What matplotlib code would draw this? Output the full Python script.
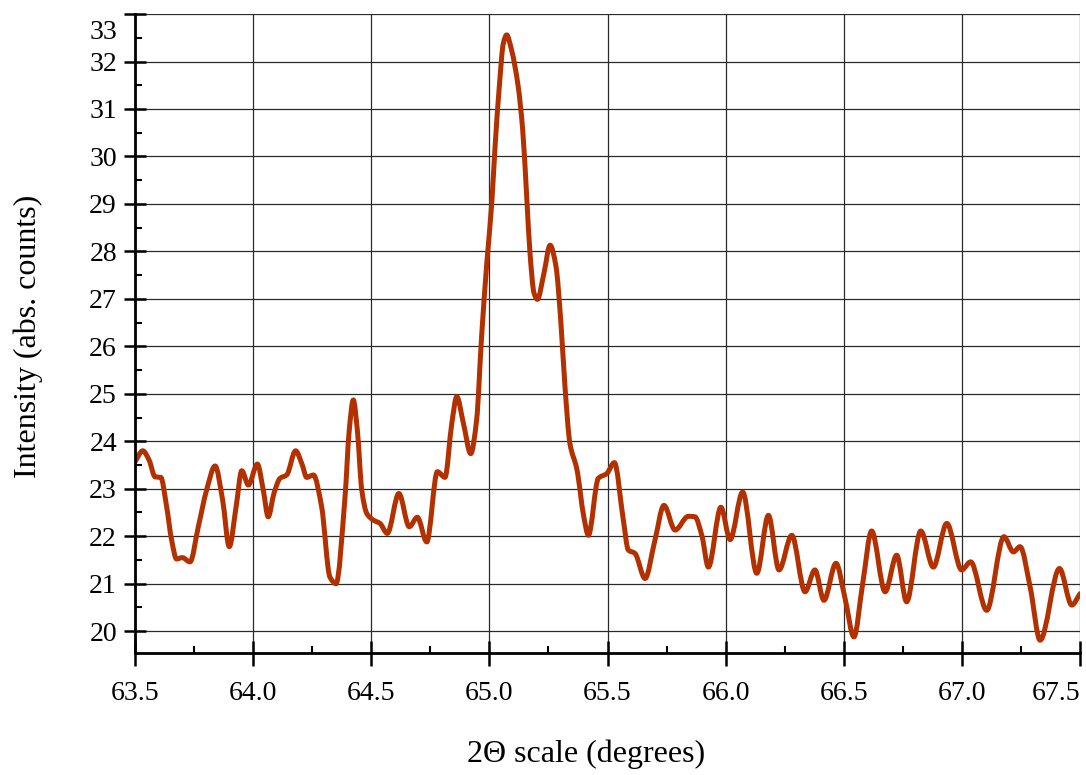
import matplotlib
matplotlib.use("Agg")
import matplotlib.pyplot as plt
from matplotlib.ticker import MultipleLocator, FormatStrFormatter
from matplotlib.path import Path
from matplotlib.patches import PathPatch
import matplotlib.transforms as mtransforms

# 2-theta positions (degrees)
two_theta = [
    63.500, 63.533, 63.560, 63.585, 63.609, 63.634, 63.655, 63.676, 63.700, 63.733,
    63.768, 63.803, 63.839, 63.871, 63.899, 63.928, 63.952, 63.980, 64.018, 64.043,
    64.064, 64.088, 64.114, 64.142, 64.180, 64.206, 64.227, 64.255, 64.290, 64.325,
    64.351, 64.389, 64.407, 64.424, 64.441, 64.460, 64.481, 64.509, 64.537, 64.568,
    64.617, 64.661, 64.695, 64.735, 64.780, 64.812, 64.841, 64.862, 64.890, 64.921,
    64.946, 64.967, 64.989, 65.010, 65.024, 65.042, 65.059, 65.073, 65.094, 65.122,
    65.141, 65.158, 65.172, 65.189, 65.203, 65.231, 65.257, 65.282, 65.302, 65.320,
    65.341, 65.370, 65.400, 65.419, 65.461, 65.497, 65.529, 65.567, 65.588, 65.616,
    65.659, 65.700, 65.739, 65.786, 65.842, 65.870, 65.900, 65.927, 65.980, 66.019,
    66.072, 66.132, 66.181, 66.226, 66.280, 66.336, 66.378, 66.416, 66.467, 66.505,
    66.543, 66.580, 66.618, 66.675, 66.724, 66.766, 66.826, 66.879, 66.936, 66.999,
    67.037, 67.105, 67.178, 67.218, 67.246, 67.290, 67.331, 67.413, 67.465, 67.500,
]

# intensity (abs. counts)
intensity = [
    23.57, 23.80, 23.60, 23.25, 23.24, 22.62, 21.92, 21.52, 21.55, 21.46,
    22.20, 22.97, 23.48, 22.76, 21.78, 22.62, 23.38, 23.08, 23.52, 22.97,
    22.41, 22.90, 23.22, 23.29, 23.80, 23.53, 23.24, 23.29, 22.62, 21.14,
    21.00, 22.83, 24.24, 24.87, 24.24, 22.97, 22.48, 22.34, 22.27, 22.06,
    22.90, 22.20, 22.40, 21.88, 23.36, 23.24, 24.38, 24.94, 24.38, 23.74,
    24.45, 26.20, 27.75, 29.01, 30.20, 31.47, 32.38, 32.56, 32.24, 31.47,
    30.56, 29.15, 27.96, 27.12, 26.99, 27.54, 28.13, 27.68, 26.55, 25.15,
    23.95, 23.42, 22.40, 22.02, 23.22, 23.32, 23.55, 22.34, 21.71, 21.64,
    21.11, 21.90, 22.65, 22.13, 22.42, 22.41, 22.00, 21.35, 22.61, 21.93,
    22.93, 21.22, 22.44, 21.29, 22.02, 20.83, 21.29, 20.65, 21.43, 20.70,
    19.88, 21.00, 22.11, 20.83, 21.60, 20.62, 22.11, 21.35, 22.27, 21.29,
    21.46, 20.44, 21.99, 21.67, 21.78, 20.90, 19.81, 21.32, 20.55, 20.79,
]

x_ticks = [63.5, 64.0, 64.5, 65.0, 65.5, 66.0, 66.5, 67.0, 67.5]
y_ticks = list(range(20, 34))


def smooth_path(xs, ys):
    """Cubic Bezier path through the read points (monotone Hermite tangents)."""
    n = len(xs)
    h = [xs[i + 1] - xs[i] for i in range(n - 1)]
    d = [(ys[i + 1] - ys[i]) / h[i] for i in range(n - 1)]
    m = [0.0] * n
    m[0], m[-1] = d[0], d[-1]
    for i in range(1, n - 1):
        if d[i - 1] * d[i] <= 0:
            m[i] = 0.0
        else:
            w1 = 2 * h[i] + h[i - 1]
            w2 = h[i] + 2 * h[i - 1]
            m[i] = (w1 + w2) / (w1 / d[i - 1] + w2 / d[i])
    verts = [(xs[0], ys[0])]
    codes = [Path.MOVETO]
    for i in range(n - 1):
        verts += [(xs[i] + h[i] / 3, ys[i] + m[i] * h[i] / 3),
                  (xs[i + 1] - h[i] / 3, ys[i + 1] - m[i + 1] * h[i] / 3),
                  (xs[i + 1], ys[i + 1])]
        codes += [Path.CURVE4] * 3
    return Path(verts, codes)


plt.rcParams['font.family'] = ['Liberation Serif', 'DejaVu Serif']

fig = plt.figure(figsize=(10.86, 7.75), dpi=100)
ax = fig.add_axes([0.1243, 0.1574, 0.8702, 0.8245])

ax.add_patch(PathPatch(smooth_path(two_theta, intensity), facecolor='none',
                       edgecolor='#B33000', lw=3.6, joinstyle='round',
                       capstyle='round', zorder=3))

ax.set_xlim(63.5, 67.5)
ax.set_ylim(19.54, 33.0)
ax.set_xticks(x_ticks)
ax.set_yticks(y_ticks)
ax.xaxis.set_major_formatter(FormatStrFormatter('%.1f'))
ax.xaxis.set_minor_locator(MultipleLocator(0.25))
ax.yaxis.set_minor_locator(MultipleLocator(0.5))

ax.grid(True, which='major', color='#2a2a2a', lw=0.9, zorder=1)

for s in ['top', 'right']:
    ax.spines[s].set_visible(False)
for s in ['left', 'bottom']:
    ax.spines[s].set_linewidth(2.0)
    ax.spines[s].set_zorder(4)

ax.tick_params(axis='y', which='major', direction='inout', length=16, width=1.8,
               labelsize=20, pad=5)
ax.tick_params(axis='y', which='minor', direction='in', length=5, width=1.5)
ax.tick_params(axis='x', which='major', direction='inout', length=18, width=1.8,
               labelsize=20, pad=11)
ax.tick_params(axis='x', which='minor', direction='in', length=5, width=1.5)

# keep the edge labels inside the figure, as in the reference
fig.canvas.draw()
xlabels = ax.get_xticklabels()
xlabels[-1].set_horizontalalignment('right')
ylabels = ax.get_yticklabels()
ylabels[-1].set_transform(ylabels[-1].get_transform() +
                          mtransforms.ScaledTranslation(0, -11 / 72, fig.dpi_scale_trans))

ax.set_xlabel('2Θ scale (degrees)', fontsize=23)
ax.set_ylabel('Intensity (abs. counts)', fontsize=23)
ax.xaxis.set_label_coords(0.477, -0.135)
ax.yaxis.set_label_coords(-0.097, 0.495)

fig.savefig('out.png', dpi=100)
